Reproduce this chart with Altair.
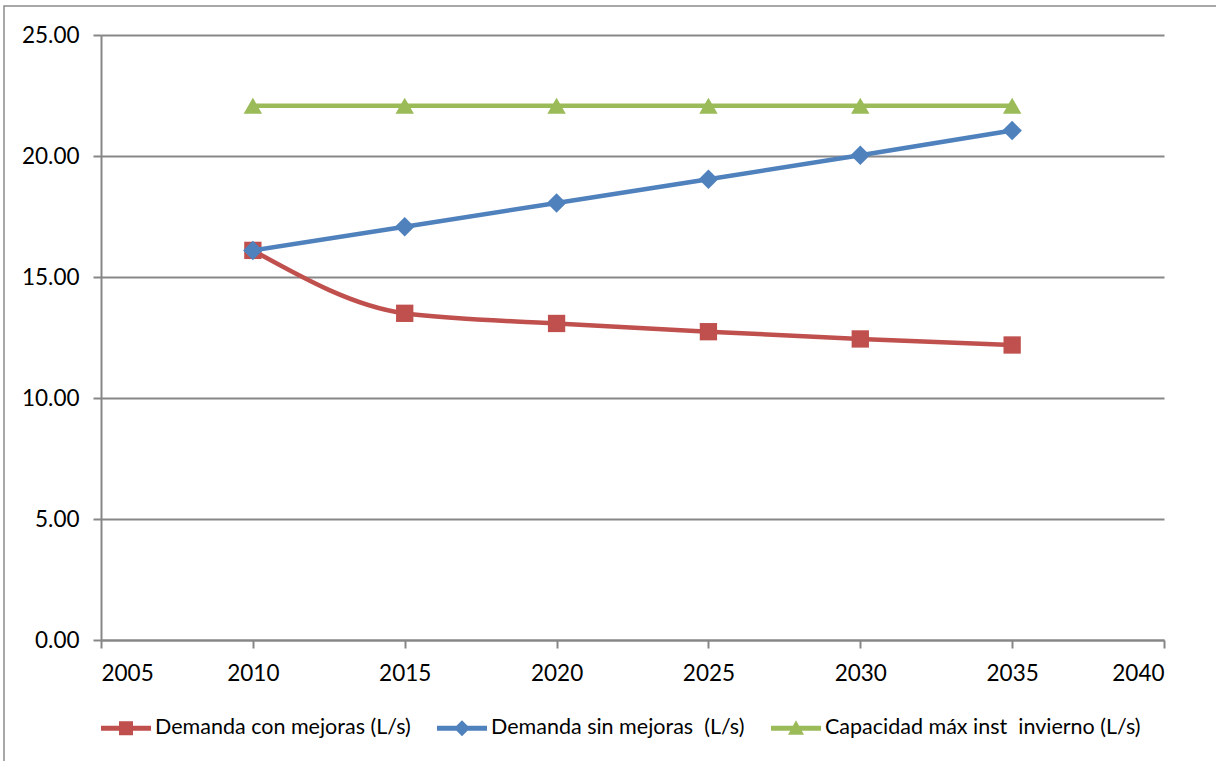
import altair as alt
import pandas as pd

years = [2010, 2015, 2020, 2025, 2030, 2035]
demanda_con = [16.10, 13.50, 13.08, 12.74, 12.44, 12.19]
demanda_sin = [16.10, 17.08, 18.06, 19.04, 20.03, 21.05]
capacidad = [22.08, 22.08, 22.08, 22.08, 22.08, 22.08]

series_names = [
    "Demanda con mejoras (L/s)",
    "Demanda sin mejoras\u00a0 (L/s)",
    "Capacidad máx inst\u00a0 invierno (L/s)",
]
colors = ["#C0504D", "#4F81BD", "#9BBB59"]
marker_shapes = ["square", "diamond", "triangle-up"]
marker_sizes = [300, 380, 340]
interpolations = ["monotone", "linear", "linear"]
x_ticks = [2005, 2010, 2015, 2020, 2025, 2030, 2035, 2040]
y_ticks = [0, 5, 10, 15, 20, 25]

legend_paths = [
    "M-1,-0.1L1,-0.1L1,0.1L-1,0.1Z M-0.28,-0.28L0.28,-0.28L0.28,0.28L-0.28,0.28Z",
    "M-1,-0.1L1,-0.1L1,0.1L-1,0.1Z M0,-0.32L0.32,0L0,0.32L-0.32,0Z",
    "M-1,-0.1L1,-0.1L1,0.1L-1,0.1Z M0,-0.32L0.32,0.26L-0.32,0.26Z",
]

rows = []
for name, vals in zip(series_names, [demanda_con, demanda_sin, capacidad]):
    for yr, v in zip(years, vals):
        rows.append({"year": yr, "value": v, "series": name})
df = pd.DataFrame(rows)

x_enc = alt.X(
    "year:Q",
    scale=alt.Scale(domain=[2005, 2040], nice=False, zero=False),
    axis=alt.Axis(values=x_ticks, format="d", title=None, grid=False, labelPadding=14),
)
y_enc = alt.Y(
    "value:Q",
    scale=alt.Scale(domain=[0, 25], nice=False),
    axis=alt.Axis(values=y_ticks, format=".2f", title=None, grid=True, labelPadding=14),
)

base = alt.Chart(df)

layers = []
frame = alt.Chart(pd.DataFrame({"a": [0]})).mark_rect(
    fill="transparent", stroke="#8C8C8C", strokeWidth=1.5
).encode(
    x=alt.value(-97), x2=alt.value(1130), y=alt.value(-29), y2=alt.value(740)
)
layers.append(frame)

for name, col, shp, sz, interp in zip(series_names, colors, marker_shapes, marker_sizes, interpolations):
    sub = base.transform_filter(alt.datum.series == name)
    layers.append(
        sub.mark_line(color=col, strokeWidth=4.5, interpolate=interp).encode(x=x_enc, y=y_enc)
    )
    layers.append(
        sub.mark_point(shape=shp, filled=True, size=sz, color=col, opacity=1).encode(x=x_enc, y=y_enc)
    )

legend_props = dict(
    title=None,
    orient="bottom",
    direction="horizontal",
    symbolSize=2500,
    symbolStrokeWidth=0,
    labelFont="Lato",
    labelFontSize=21.5,
    labelColor="black",
    labelOffset=4,
    labelLimit=0,
    columnPadding=26,
    offset=18,
)

legend_layer = base.transform_filter("false").mark_point(filled=True, opacity=1).encode(
    x=x_enc,
    y=y_enc,
    color=alt.Color(
        "series:N",
        scale=alt.Scale(domain=series_names, range=colors),
        legend=alt.Legend(**legend_props),
    ),
    shape=alt.Shape(
        "series:N",
        scale=alt.Scale(domain=series_names, range=legend_paths),
        legend=alt.Legend(**legend_props),
    ),
)
layers.append(legend_layer)

chart = alt.layer(*layers).properties(
    width=1063,
    height=605,
    autosize=alt.AutoSizeParams(type="none"),
    padding={"left": 101, "top": 35, "right": 52, "bottom": 121},
    background="white",
).configure_view(stroke=None).configure_axis(
    domainColor="#878787",
    domainWidth=2,
    gridColor="#878787",
    gridWidth=2,
    tickColor="#878787",
    tickWidth=2,
    tickSize=8,
    labelFont="Lato",
    labelFontSize=22.5,
    labelColor="black",
)

chart.save("out.html", embed_options={"renderer": "svg", "actions": False})
